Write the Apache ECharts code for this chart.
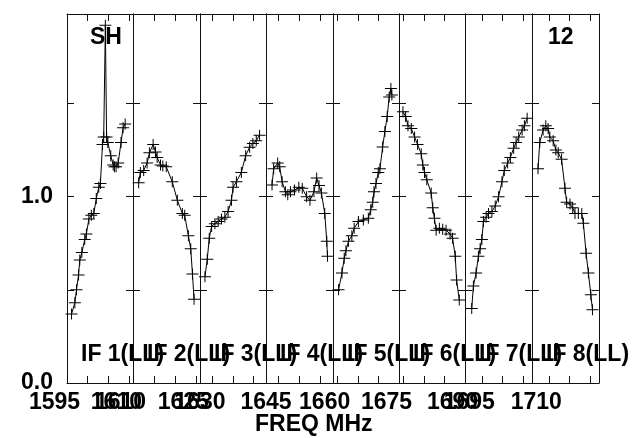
<!DOCTYPE html>
<html>
<head>
<meta charset="utf-8">
<script src="https://cdn.jsdelivr.net/npm/echarts@6/dist/echarts.min.js"></script>
<style>
  html, body { margin: 0; padding: 0; background: #fff; }
  #main { width: 641px; height: 438px; }
</style>
</head>
<body>
<div id="main"></div>
<script>
// spectra per IF: [freq MHz, amplitude]
const IF1 = [
  [1596.1, 0.37], [1596.9, 0.43], [1597.3, 0.50], [1597.8, 0.58], [1598.1, 0.66],
  [1598.6, 0.70], [1599.3, 0.77], [1599.7, 0.80], [1600.3, 0.88], [1600.9, 0.90],
  [1601.5, 0.91], [1602.1, 0.99], [1602.7, 1.05], [1603.1, 1.07], [1603.6, 1.28],
  [1603.9, 1.32], [1604.3, 1.92], [1604.6, 1.32], [1604.9, 1.29], [1605.6, 1.22],
  [1606.2, 1.17], [1606.5, 1.16], [1606.9, 1.16], [1607.4, 1.18], [1608.1, 1.29],
  [1608.6, 1.37], [1609.1, 1.39]
];
const IF2 = [
  [1611.35, 1.075], [1611.76, 1.13], [1612.55, 1.14], [1613.37, 1.18], [1613.92, 1.235],
  [1614.81, 1.28], [1615.37, 1.24], [1615.77, 1.21], [1616.57, 1.17], [1617.12, 1.165],
  [1617.94, 1.16], [1619.38, 1.08], [1620.59, 0.98], [1621.79, 0.91], [1622.34, 0.90],
  [1623.23, 0.79], [1623.79, 0.72], [1624.2, 0.585], [1624.58, 0.45]
];
const IF3 = [
  [1628.2, 0.57], [1628.76, 0.664], [1629.24, 0.777], [1629.82, 0.84], [1630.61, 0.855],
  [1631.4, 0.866], [1632.22, 0.88], [1633.02, 0.89], [1633.81, 0.92], [1634.63, 0.98],
  [1635.01, 1.05], [1635.83, 1.08], [1637.03, 1.13], [1638.07, 1.22], [1639.03, 1.265],
  [1639.82, 1.285], [1640.64, 1.30], [1641.44, 1.33]
];
const IF4 = [
  [1643.44, 1.062], [1643.83, 1.15], [1644.79, 1.18], [1645.27, 1.16], [1645.85, 1.08],
  [1646.64, 1.026], [1647.2, 1.01], [1647.85, 1.026], [1648.81, 1.035], [1649.84, 1.05],
  [1650.66, 1.045], [1651.7, 1.0], [1652.49, 0.98], [1653.45, 1.026], [1654.1, 1.10],
  [1654.66, 1.06], [1655.23, 1.02], [1656.03, 0.91], [1656.51, 0.76], [1656.68, 0.68]
];
const IF5 = [
  [1660.35, 0.50], [1661.17, 0.59], [1661.72, 0.67], [1662.13, 0.71], [1662.75, 0.76],
  [1663.57, 0.79], [1664.13, 0.83], [1665.16, 0.866], [1666.36, 0.875], [1667.57, 0.884],
  [1668.14, 0.93], [1668.62, 0.97], [1668.94, 1.026], [1669.42, 1.07], [1669.97, 1.13],
  [1670.38, 1.15], [1671.03, 1.267], [1671.58, 1.35], [1672.14, 1.43], [1672.62, 1.535],
  [1673.03, 1.58], [1673.27, 1.545]
];
const IF6 = [
  [1674.96, 1.455], [1675.61, 1.43], [1676.17, 1.38], [1676.98, 1.366], [1677.78, 1.32],
  [1678.5, 1.28], [1679.39, 1.23], [1679.77, 1.17], [1680.18, 1.13], [1680.74, 1.09],
  [1681.8, 1.02], [1682.18, 0.94], [1682.59, 0.884], [1683.0, 0.82], [1683.79, 0.83],
  [1684.59, 0.825], [1685.41, 0.82], [1686.37, 0.80], [1686.99, 0.777], [1687.64, 0.68],
  [1687.96, 0.553], [1688.61, 0.446]
];
const IF7 = [
  [1692.61, 0.40], [1693.0, 0.52], [1693.65, 0.59], [1694.2, 0.68], [1694.61, 0.72],
  [1695.02, 0.77], [1695.4, 0.866], [1696.05, 0.89], [1696.61, 0.91], [1697.42, 0.92],
  [1698.22, 0.95], [1699.01, 1.0], [1699.83, 1.08], [1700.38, 1.14], [1701.18, 1.18],
  [1701.83, 1.21], [1702.62, 1.26], [1703.2, 1.29], [1703.83, 1.32], [1704.64, 1.357],
  [1705.19, 1.38], [1705.84, 1.42]
];
const IF8 = [
  [1707.44, 1.15], [1707.85, 1.29], [1708.65, 1.357], [1709.3, 1.38], [1709.85, 1.366],
  [1710.26, 1.32], [1711.05, 1.30], [1711.7, 1.25], [1712.26, 1.235], [1713.07, 1.20],
  [1713.87, 1.045], [1714.27, 0.97], [1715.07, 0.96], [1715.72, 0.94], [1716.27, 0.91],
  [1717.07, 0.91], [1717.89, 0.91], [1718.27, 0.857], [1718.92, 0.696], [1719.47, 0.59],
  [1720.05, 0.473], [1720.44, 0.393]
];
const SPECTRA = [IF1, IF2, IF3, IF4, IF5, IF6, IF7, IF8];

// band start of each IF (MHz), each 16 MHz wide
const IF_START = [1595, 1610, 1627, 1642, 1659, 1674, 1691, 1706];
const IF_WIDTH = 16;
const IF_NAMES = ['IF 1(LL)', 'IF 2(LL)', 'IF 3(LL)', 'IF 4(LL)', 'IF 5(LL)', 'IF 6(LL)', 'IF 7(LL)', 'IF 8(LL)'];
// frequency tick labels printed under each IF box
const FREQ_LABELS = [[1595, 1610], [1610, 1625], [1630], [1645], [1660, 1675], [1690], [1695], [1710]];
const Y_LABELS = [0, 1];
const Y_TICKS = [0.5, 1, 1.5];
const Y_MAX = 1.98;
const SOURCE = 'SH';
const BASELINE = '12';
const X_TITLE = 'FREQ MHz';

// layout
const EDGES = [67, 133, 200, 266, 333, 399, 465, 532, 599];
const TOP = 14, HEIGHT = 369;
const FONT = 'Liberation Sans, Arial, sans-serif';
const FS = 23;
const INK = '#111';

const chart = echarts.init(document.getElementById('main'));

const grid = [], xAxis = [], yAxis = [], series = [], graphic = [];
const plus = 'path://M0,5H12V6H0ZM5.5,0H6.5V11H5.5Z';

function label(text, x, y) {
  return {
    type: 'text', x: x, y: y, z: 10, silent: true,
    style: { text: text, fill: '#000', font: 'bold ' + FS + 'px ' + FONT, align: 'left', verticalAlign: 'middle' }
  };
}

SPECTRA.forEach((data, i) => {
  const lo = IF_START[i], hi = lo + IF_WIDTH;
  const ticks = [];
  for (let f = Math.ceil(lo / 5) * 5; f <= hi; f += 5) ticks.push(f);

  grid.push({ left: EDGES[i], top: TOP, width: EDGES[i + 1] - EDGES[i], height: HEIGHT });

  const line = { show: true, onZero: false, lineStyle: { color: INK, width: 1 } };
  const xTick = { show: true, inside: true, length: 7, customValues: ticks, lineStyle: { color: INK } };
  xAxis.push({
    type: 'value', gridIndex: i, position: 'bottom', min: lo, max: hi,
    axisLine: line, axisTick: xTick, splitLine: { show: false },
    axisLabel: {
      show: true, customValues: FREQ_LABELS[i], margin: 8, padding: [0, 25, 0, 0],
      color: '#000', fontFamily: FONT, fontWeight: 'bold', fontSize: FS,
      formatter: v => String(v)
    }
  });
  xAxis.push({
    type: 'value', gridIndex: i, position: 'top', min: lo, max: hi,
    axisLine: line, axisTick: xTick, axisLabel: { show: false }, splitLine: { show: false }
  });

  const yTick = { show: true, inside: true, length: 7, customValues: Y_TICKS, lineStyle: { color: INK } };
  yAxis.push({
    type: 'value', gridIndex: i, position: 'left', min: 0, max: Y_MAX,
    axisLine: line, axisTick: yTick, splitLine: { show: false },
    axisLabel: {
      show: i === 0, customValues: Y_LABELS, margin: 14,
      color: '#000', fontFamily: FONT, fontWeight: 'bold', fontSize: FS,
      formatter: v => v.toFixed(1)
    }
  });
  yAxis.push({
    type: 'value', gridIndex: i, position: 'right', min: 0, max: Y_MAX,
    axisLine: line, axisTick: yTick, axisLabel: { show: false }, splitLine: { show: false }
  });

  series.push({
    type: 'line', xAxisIndex: i * 2, yAxisIndex: i * 2, data: data,
    symbol: plus, symbolSize: [12, 11], showAllSymbol: true,
    itemStyle: { color: '#000' },
    lineStyle: { color: '#000', width: 1 },
    animation: false
  });

  graphic.push(label(IF_NAMES[i], EDGES[i] + 14, 355));
});

graphic.push(
  label(SOURCE, 90, 38),
  label(BASELINE, 548, 38),
  label(X_TITLE, 255, 425)
);

chart.setOption({
  backgroundColor: '#fff',
  animation: false,
  grid, xAxis, yAxis, series, graphic
});
</script>
</body>
</html>
